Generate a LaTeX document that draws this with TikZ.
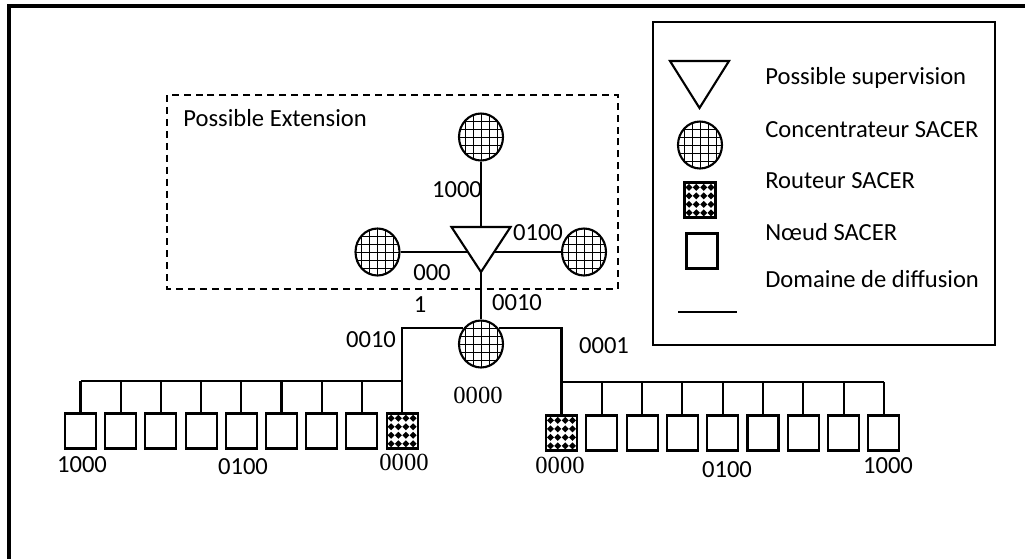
\documentclass[tikz,border=0pt]{standalone}
\usepackage{fontspec}
\setmainfont{Carlito}
\newfontfamily\digitserif{Liberation Serif}
\usetikzlibrary{shapes.geometric}
\tikzset{
  txt/.style={inner sep=0pt, font=\fontsize{14}{16}\selectfont},
  stxt/.style={inner sep=0pt, font=\digitserif\fontsize{14}{16}\selectfont},
  conc/.style={ellipse, draw, line width=1.2pt, minimum width=0.88cm, minimum height=0.94cm, inner sep=0pt,
    path picture={
      \foreach \k in {-0.32,-0.16,0,0.16,0.32}{
        \draw[line width=0.45pt] ([xshift=\k cm]path picture bounding box.north) -- ([xshift=\k cm]path picture bounding box.south);
        \draw[line width=0.45pt] ([yshift=\k cm]path picture bounding box.west) -- ([yshift=\k cm]path picture bounding box.east);
      }}},
  router/.style={rectangle, draw, line width=1.2pt, minimum width=0.62cm, minimum height=0.70cm, inner sep=0pt,
    path picture={
      \foreach \i in {-0.22,-0.075,0.075,0.22}{
        \foreach \j in {-0.255,-0.085,0.085,0.255}{
          \fill ([xshift=\i cm, yshift=\j cm]path picture bounding box.center) +(0.07cm,0) -- +(0,0.07cm) -- +(-0.07cm,0) -- +(0,-0.07cm) -- cycle;
        }}}},
  sacer/.style={rectangle, draw, line width=1.2pt, minimum width=0.62cm, minimum height=0.70cm, inner sep=0pt},
  conn/.style={line width=1.2pt},
  tri/.style={line width=1.2pt, line join=miter}
}
\begin{document}
\begin{tikzpicture}[x=0.02cm,y=-0.02cm]
\useasboundingbox (0,0) rectangle (1025,559);
% outer frame (top and left edges visible)
\draw[line width=2.3pt] (9,559) -- (9,6) -- (1025,6);

% extension box
\draw[line width=1.1pt, dash pattern=on 4pt off 2.8pt] (167,95) rectangle (618,289);
\node[txt, anchor=base west] (extlab) at (183,126) {Possible Extension};

% supervision triangle
\draw[tri] (451.5,227) -- (510.5,227) -- (481,272) -- cycle;
\coordinate (Stop) at (481,227);
\coordinate (Sl) at (467.9,252);
\coordinate (Sr) at (494.1,252);
\coordinate (Sapex) at (481,272);

% concentrators
\node[conc] (T1) at (481,137) {};
\node[conc] (L1) at (377.5,252) {};
\node[conc] (R1) at (584,252) {};
\node[conc] (C) at (481,344) {};

\draw[conn] (T1) -- (Stop);
\draw[conn] (L1) -- (Sl);
\draw[conn] (Sr) -- (R1);
\draw[conn] (Sapex) -- (C);

\node[txt] (l1000) at (457,190) {1000};
\node[txt] (l0100) at (538,233) {0100};
\node[txt] (l000) at (432,273) {000};
\node[txt] (l1) at (420,305) {1};
\node[txt] (l0010r) at (517,303) {0010};
\node[txt] (l0010l) at (371,340) {0010};
\node[txt] (l0001) at (604,346) {0001};
\node[stxt] (lC) at (478,395) {0000};

% left domain
\foreach \n/\x in {1/80.5,2/120.7,3/160.9,4/201.1,5/241.3,6/281.5,7/321.7,8/361.9}{
  \node[sacer] (NL\n) at (\x,431) {};
}
\node[router] (RL) at (402.1,431) {};
\coordinate (busL) at (0,381);
\draw[conn] (NL1.north |- busL) -- (RL.north |- busL);
\foreach \n in {1,...,8}{
  \draw[conn] (NL\n.north) -- (NL\n.north |- busL);
}
\draw[conn] (C.138) -| (RL.north);

% right domain
\node[router] (RR) at (561.5,433) {};
\foreach \n/\x in {1/601.8,2/642.1,3/682.4,4/722.7,5/763,6/803.3,7/843.6,8/883.9}{
  \node[sacer] (NR\n) at (\x,433) {};
}
\coordinate (busR) at (0,382);
\draw[conn] (RR.north |- busR) -- (NR8.north |- busR);
\foreach \n in {1,...,8}{
  \draw[conn] (NR\n.north) -- (NR\n.north |- busR);
}
\draw[conn] (C.42) -| (RR.north);

% address labels
\node[txt] (aL1) at (82,465) {1000};
\node[txt] (aL2) at (243,467) {0100};
\node[stxt] (aL3) at (404,462) {0000};
\node[stxt] (aR1) at (560,465) {0000};
\node[txt] (aR2) at (727,470) {0100};
\node[txt] (aR3) at (888,466) {1000};

% legend
\draw[line width=1.2pt] (653,22) rectangle (995,345);
\draw[tri] (670,61) -- (729,61) -- (699.5,108) -- cycle;
\node[conc] (legC) at (700,145) {};
\node[router] (legR) at (700,200) {};
\node[sacer] (legN) at (702,251) {};
\coordinate (legA) at (678,312);
\coordinate (legB) at (737,312);
\draw[conn] (legA) -- (legB);
\node[txt, anchor=base west] (t1) at (765,84) {Possible supervision};
\node[txt, anchor=base west] (t2) at (765,137) {Concentrateur SACER};
\node[txt, anchor=base west] (t3) at (765,188) {Routeur SACER};
\node[txt, anchor=base west] (t4) at (765,240) {Nœud SACER};
\node[txt, anchor=base west] (t5) at (765,287) {Domaine de diffusion};
\end{tikzpicture}
\end{document}
